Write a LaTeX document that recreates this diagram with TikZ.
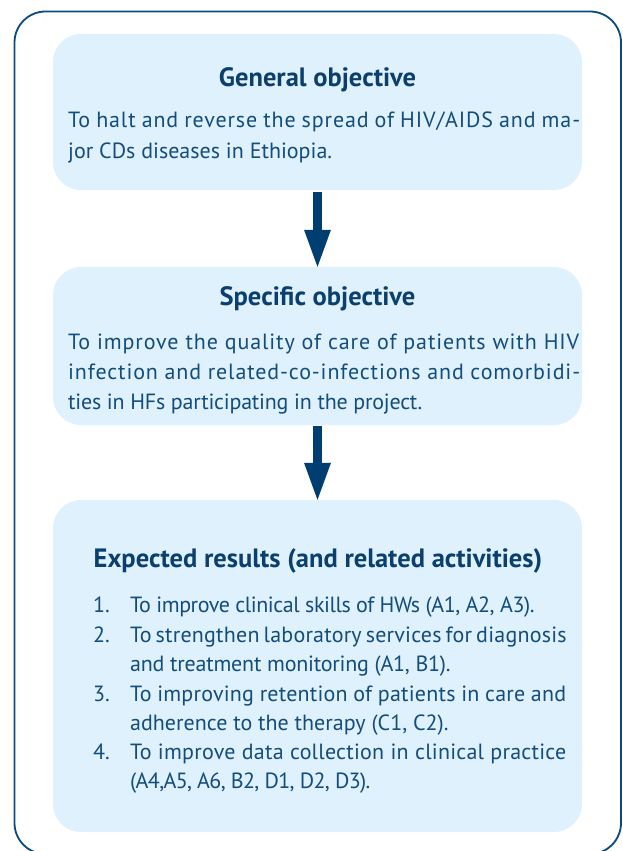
\documentclass[tikz,border=0pt]{standalone}
\usepackage{fontspec}
\setmainfont{PT Sans}
\usetikzlibrary{arrows.meta,calc}
\definecolor{frameblue}{HTML}{0B4A80}
\definecolor{boxfill}{HTML}{DFF1FC}
\definecolor{txtblue}{HTML}{134D7D}
\definecolor{ttlblue}{HTML}{0A3F6E}
\definecolor{arrowblue}{HTML}{003E72}
\newcommand{\jline}[3]{\makebox[#1][s]{\addfontfeature{LetterSpace=#2}#3}}
\newcommand{\tline}[2]{{\addfontfeature{LetterSpace=#1}#2}}
\tikzset{
  box/.style={rectangle, fill=boxfill, rounded corners=28pt, minimum width=529pt, inner sep=0pt},
  ttl/.style={anchor=base, font=\fontsize{26.5}{30}\selectfont\bfseries, text=ttlblue, inner sep=0pt},
  txt/.style={anchor=base west, font=\fontsize{22}{26}\selectfont, text=txtblue, inner sep=0pt},
  bigarrow/.style={arrowblue, line width=9pt, -{Triangle[width=27pt,length=37pt,line width=0pt]}}
}
\begin{document}
\begin{tikzpicture}[x=1pt,y=-1pt]
\useasboundingbox (0,0) rectangle (622,851);
\draw[frameblue, line width=1.8pt, rounded corners=31pt] (14.5,11.5) rectangle (621,854);
% boxes
\node[box, minimum height=156pt] (b1) at (317.5,112) {};
\node[box, minimum height=158pt] (b2) at (317.5,346) {};
\node[box, minimum height=332pt] (b3) at (317.5,666) {};
% arrows
\draw[bigarrow] ($(b1.south)+(0,2)$) -- (b2.north);
\draw[bigarrow] ($(b2.south)+(0,1)$) -- (b3.north);
% box 1
\node[ttl] (t1) at (317.5,86) {General objective};
\node[txt] (l11) at (68,127) {\jline{512pt}{4}{To halt and reverse the spread of HIV/AIDS and ma-}};
\node[txt] (l12) at (68,158) {jor CDs diseases in Ethiopia.};
% box 2
\node[ttl] (t2) at (317.5,305) {Specific objective};
\node[txt] (l21) at (68,349) {\jline{511pt}{4}{To improve the quality of care of patients with HIV}};
\node[txt] (l22) at (68,379) {\jline{512pt}{4}{infection and related-co-infections and comorbidi-}};
\node[txt] (l23) at (68,409) {\tline{-1}{ties in HFs participating in the project.}};
% box 3
\node[ttl] (t3) at (318,567) {Expected results (and related activities)};
\node[txt] (n1) at (93,612) {1.};
\node[txt] (i1) at (130,612) {\tline{-2}{To improve clinical skills of HWs (A1, A2, A3).}};
\node[txt] (n2) at (93,642) {2.};
\node[txt] (i2) at (130,642) {\jline{436pt}{1}{To strengthen laboratory services for diagnosis}};
\node[txt] (i2b) at (130,671) {\tline{-1}{and treatment monitoring (A1, B1).}};
\node[txt] (n3) at (93,701) {3.};
\node[txt] (i3) at (130,701) {\jline{436pt}{1}{To improving retention of patients in care and}};
\node[txt] (i3b) at (130,730) {adherence to the therapy (C1, C2).};
\node[txt] (n4) at (93,759) {4.};
\node[txt] (i4) at (130,759) {\jline{436pt}{1}{To improve data collection in clinical practice}};
\node[txt] (i4b) at (130,788) {\tline{-3}{(A4,A5, A6, B2, D1, D2, D3).}};
\end{tikzpicture}
\end{document}
